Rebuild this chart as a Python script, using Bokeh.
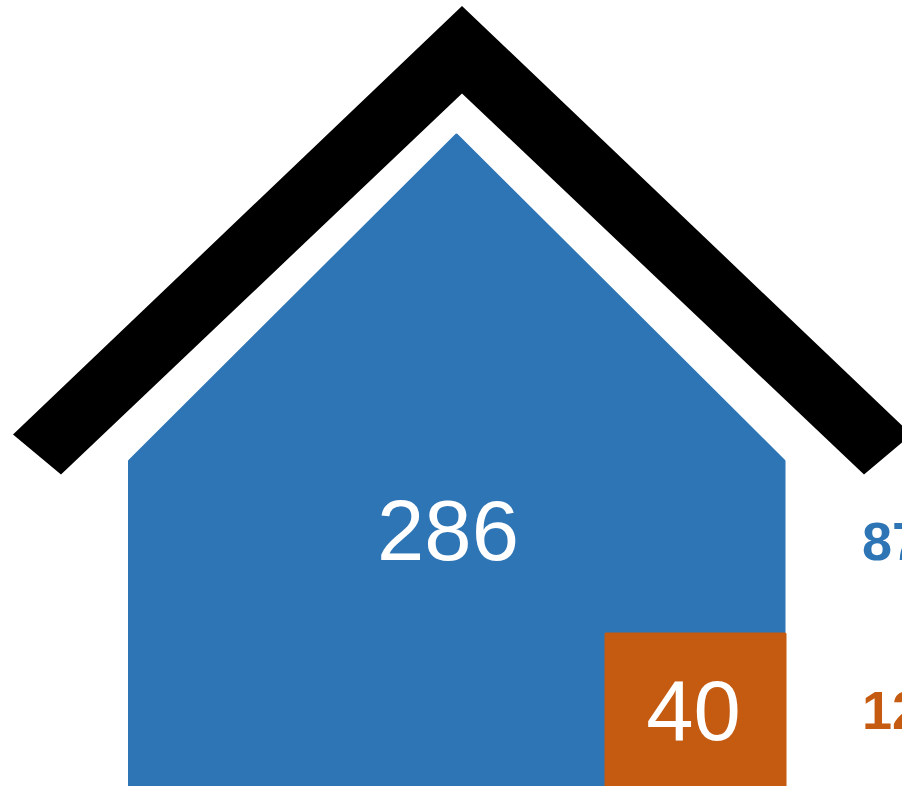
from bokeh.plotting import figure
from bokeh.models import Range1d
from bokeh.core.properties import value
from bokeh.embed import file_html
from bokeh.resources import INLINE

# data
values = [286, 40]
shares = ["87.7%", "12.3%"]
colors = ["#2E75B6", "#C55A11"]

# house outline
roof_x = [461.5, 911, 863.5, 461.5, 60.5, 12.5]
roof_y = [5.5, 434, 474, 93, 474, 434]
house_x = [129, 456, 783.5, 783.5, 129]
house_y = [460.5, 134.5, 460.5, 800, 800]
box_x = [605.5, 784.5, 784.5, 605.5]
box_y = [633.5, 633.5, 800, 800]

p = figure(width=902, height=786, output_backend="svg", toolbar_location=None,
           x_range=Range1d(0, 902), y_range=Range1d(786, 0),
           min_border=0, outline_line_color=None, background_fill_color="white",
           border_fill_color="white")
p.axis.visible = False
p.grid.visible = False
p.styles = {"position": "fixed", "left": "0px", "top": "0px"}

p.patch(roof_x, roof_y, fill_color="black", line_color=None)
p.patch(house_x, house_y, fill_color=colors[0], line_color=colors[0], line_width=3, line_join="round")
p.patch(box_x, box_y, fill_color=colors[1], line_color=colors[1], line_width=3, line_join="round")

font = value("Liberation Sans")
p.text([447.5], [529.5], text=[str(values[0])], text_font=font, text_font_size="85px",
       text_color="white", text_align="center", text_baseline="alphabetic")
p.text([693], [710], text=[str(values[1])], text_font=font, text_font_size="85px",
       text_color="white", text_align="center", text_baseline="alphabetic")
p.text([861.5, 861.5], [540.5, 709], text=shares, text_font=font, text_font_size="54px",
       text_font_style="bold", text_color=colors, text_align="left", text_baseline="alphabetic")

open("out.html", "w").write(file_html(p, INLINE))
